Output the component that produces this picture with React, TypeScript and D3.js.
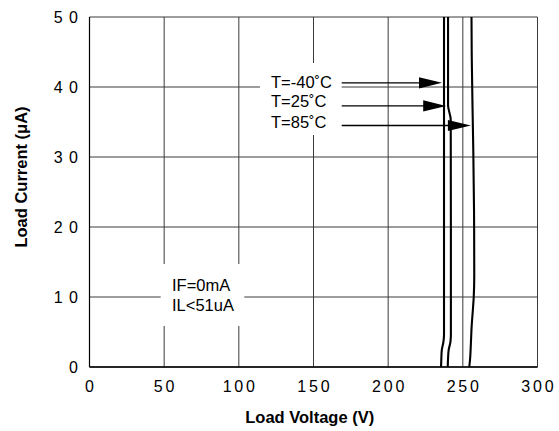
import React from 'react';
import * as d3 from 'd3';

const xTicks = [0, 50, 100, 150, 200, 250, 300];
const yTicks = [0, 10, 20, 30, 40, 50];
const seriesNames = ['T=-40˚C', 'T=25˚C', 'T=85˚C'];
// each point: [load current µA, load voltage V]
const curveM40: [number, number][] = [
  [0, 235.4], [1.2, 235.6], [2.4, 235.9], [3.6, 237.0], [4.6, 237.4], [20, 237.4], [50, 237.4],
];
const curve25: [number, number][] = [
  [0, 239.9], [1.2, 240.1], [2.4, 240.5], [3.6, 241.7], [4.6, 242.0], [20, 242.0], [35.3, 241.9], [37.4, 240.1], [50, 240.1],
];
const curve85: [number, number][] = [
  [0, 254.3], [1, 254.8], [3.4, 255.4], [5.8, 255.9], [8.1, 256.7], [10, 257.3], [13, 257.65], [22.4, 257.5], [31, 257.0], [37, 256.5], [43.9, 256.0], [50, 255.8],
];
const curves = [curveM40, curve25, curve85];
const arrowCurrents = [40.6, 37.3, 34.5];
const labelCurrents = [39.9, 37.1, 34.2];
const noteLines = ['IF=0mA', 'IL<51uA'];
const xTitle = 'Load Voltage (V)';
const yTitle = 'Load Current (μA)';

const FONT = '"Liberation Sans", Arial, Helvetica, sans-serif';

function voltageAt(curve: [number, number][], cur: number) {
  for (let i = 0; i < curve.length - 1; i++) {
    const a = curve[i], b = curve[i + 1];
    if (cur >= a[0] && cur <= b[0]) {
      const t = (cur - a[0]) / (b[0] - a[0]);
      return a[1] + t * (b[1] - a[1]);
    }
  }
  return curve[curve.length - 1][1];
}

export default function App() {
  const W = 559, H = 431;
  const m = { left: 89.5, right: 537.5, top: 17, bottom: 367 };
  const x = d3.scaleLinear().domain([0, 300]).range([m.left, m.right]);
  const y = d3.scaleLinear().domain([0, 50]).range([m.bottom, m.top]);
  const line = d3
    .line<[number, number]>()
    .x((d) => x(d[1]))
    .y((d) => y(d[0]))
    .curve(d3.curveMonotoneY);

  const gridColor = '#3a3a3a';
  const arrowStartX = 341.7;

  return (
    <svg
      width={W}
      height={H}
      viewBox={`0 0 ${W} ${H}`}
      style={{ position: 'absolute', left: 0, top: 0, background: '#fff' }}
      fontFamily={FONT}
    >
      <rect x={0} y={0} width={W} height={H} fill="#fff" />
      {/* grid */}
      {xTicks.map((t) => (
        <line key={'gx' + t} x1={x(t)} x2={x(t)} y1={m.top} y2={m.bottom} stroke={gridColor} strokeWidth={1} />
      ))}
      {yTicks.map((t) => (
        <line key={'gy' + t} x1={m.left} x2={m.right} y1={y(t)} y2={y(t)} stroke={gridColor} strokeWidth={1} />
      ))}
      <line x1={m.left} x2={m.right} y1={m.bottom} y2={m.bottom} stroke="#000" strokeWidth={1.4} />
      <line x1={m.left} x2={m.left} y1={m.top} y2={m.bottom} stroke="#000" strokeWidth={1.2} />

      {/* label backgrounds */}
      <rect x={260} y={63} width={arrowStartX - 260} height={72} fill="#fff" />
      <rect x={160.7} y={264} width={83.6} height={62} fill="#fff" />

      {/* curves */}
      {curves.map((c, i) => (
        <path key={'c' + i} d={line(c) || ''} fill="none" stroke="#000" strokeWidth={2.1} />
      ))}

      {/* arrows and labels */}
      {seriesNames.map((name, i) => {
        const ay = y(arrowCurrents[i]);
        const tip = x(voltageAt(curves[i], arrowCurrents[i])) - 2;
        return (
          <g key={'a' + i}>
            <line x1={arrowStartX} x2={tip - 20} y1={ay} y2={ay} stroke="#000" strokeWidth={1.3} />
            <polygon points={`${tip},${ay} ${tip - 23},${ay - 5.6} ${tip - 23},${ay + 5.6}`} fill="#000" />
            <text x={271} y={y(labelCurrents[i])} fontSize={16.5} fill="#000">
              {name}
            </text>
          </g>
        );
      })}

      {/* note */}
      {noteLines.map((s, i) => (
        <text key={'n' + i} x={172} y={291 + i * 20} fontSize={16.5} fill="#000">
          {s}
        </text>
      ))}

      {/* x tick labels */}
      {xTicks.map((t) => (
        <text
          key={'xt' + t}
          x={x(t) + 1.4}
          y={392}
          fontSize={16}
          letterSpacing={2.8}
          textAnchor="middle"
          fill="#000"
        >
          {t}
        </text>
      ))}
      {/* y tick labels */}
      {yTicks.map((t) => (
        <text
          key={'yt' + t}
          x={84.5}
          y={y(t) + 6.3}
          fontSize={16}
          letterSpacing={6.5}
          textAnchor="end"
          fill="#000"
        >
          {t}
        </text>
      ))}

      {/* axis titles */}
      <text x={309.7} y={423} fontSize={16.5} fontWeight="bold" textAnchor="middle" fill="#000">
        {xTitle}
      </text>
      <text
        transform={`translate(27,177) rotate(-90)`}
        fontSize={16.5}
        fontWeight="bold"
        textAnchor="middle"
        fill="#000"
      >
        {yTitle}
      </text>
    </svg>
  );
}
